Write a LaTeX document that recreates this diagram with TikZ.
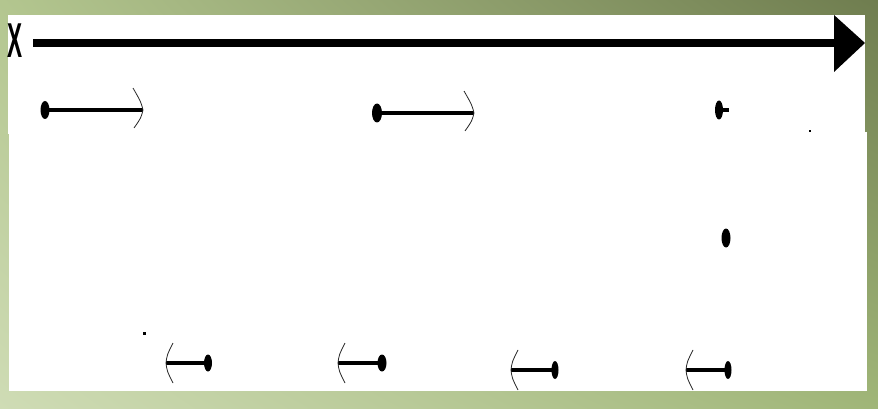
\documentclass[tikz,border=0pt]{standalone}
\usepackage{fontspec}
\setmainfont{Liberation Sans}
\usetikzlibrary{shapes.geometric,calc,shadings}
\definecolor{bgLL}{RGB}{207,220,181}
\definecolor{bgLR}{RGB}{160,182,120}
\definecolor{bgUL}{RGB}{179,198,143}
\definecolor{bgUR}{RGB}{111,125,79}
\newcommand\RightHead[1]{\draw[tipline] ($(#1)+(-10,-22)$) .. controls ($(#1)+(-2,-8)$) .. (#1) .. controls ($(#1)+(-2,8)$) .. ($(#1)+(-9,18)$);}
\newcommand\LeftHead[1]{\draw[tipline] ($(#1)+(7,-20)$) .. controls ($(#1)+(1,-8)$) .. (#1) .. controls ($(#1)+(1,8)$) .. ($(#1)+(7,20)$);}
\begin{document}
\begin{tikzpicture}[x=1pt,y=-1pt,
  dot/.style={ellipse,fill=black,inner sep=0pt,minimum width=9pt,minimum height=18pt},
  speck/.style={rectangle,fill=black,inner sep=0pt,minimum size=2.5pt},
  shaft/.style={line width=3.5pt},
  tipline/.style={line width=0.8pt,black!85},
]
\useasboundingbox (0,0) rectangle (878,409);
\shade[lower left=bgLL,lower right=bgLR,upper left=bgUL,upper right=bgUR] (0,0) rectangle (878,409);
\fill[white] (8,15) rectangle (865,134);
\fill[white] (9,132) rectangle (867,391);

% axis
\node[font=\bfseries\fontsize{49}{49}\selectfont,xscale=0.46,inner sep=0pt] (X) at (15.5,40.5) {X};
\coordinate (axs) at (33,43);
\coordinate (axe) at (835,43);
\coordinate (aht) at (834,15);
\coordinate (ahp) at (865,43);
\coordinate (ahb) at (834,72);
\draw[line width=8pt] (axs) -- (axe);
\fill (aht) -- (ahp) -- (ahb) -- cycle;

% top row
\node[dot,minimum width=9pt,minimum height=18pt] (d1) at (45,110) {};
\coordinate (t1) at (143,110);
\draw[shaft] (d1.center) -- (t1);
\RightHead{t1}

\node[dot,minimum width=10pt,minimum height=19pt] (d2) at (377,113) {};
\coordinate (t2) at (474,113);
\draw[shaft] (d2.center) -- (t2);
\RightHead{t2}

\node[dot,minimum width=8pt,minimum height=19pt] (d3) at (719,110) {};
\coordinate (t3) at (729,110);
\draw[shaft] (d3.center) -- (t3);

\node[speck,minimum size=2pt] (s1) at (810,131) {};
\node[dot,minimum width=9pt,minimum height=19pt] (d4) at (726,238) {};
\node[speck,minimum size=3pt] (s2) at (144,333) {};

% bottom row
\node[dot,minimum width=8pt,minimum height=17pt] (b1) at (208,363) {};
\coordinate (u1) at (166,363);
\draw[shaft] (b1.center) -- (u1);
\LeftHead{u1}

\node[dot,minimum width=9pt,minimum height=17pt] (b2) at (382,363) {};
\coordinate (u2) at (338,363);
\draw[shaft] (b2.center) -- (u2);
\LeftHead{u2}

\node[dot,minimum width=7pt,minimum height=18pt] (b3) at (555,370) {};
\coordinate (u3) at (511,370);
\draw[shaft] (b3.center) -- (u3);
\LeftHead{u3}

\node[dot,minimum width=7pt,minimum height=18pt] (b4) at (728,370) {};
\coordinate (u4) at (686,370);
\draw[shaft] (b4.center) -- (u4);
\LeftHead{u4}
\end{tikzpicture}
\end{document}
